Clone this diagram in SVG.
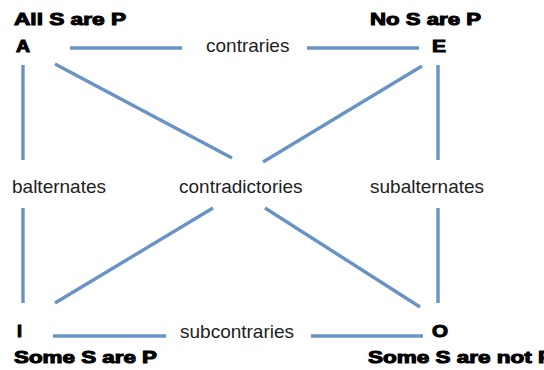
<svg xmlns="http://www.w3.org/2000/svg" width="544" height="370" viewBox="0 0 544 370">
  <defs>
    <filter id="soft" x="-10%" y="-10%" width="120%" height="120%">
      <feGaussianBlur stdDeviation="0.5"/>
    </filter>
    <style>
      .ln { stroke: #6a93c5; stroke-width: 3.4; fill: none; stroke-linecap: butt; }
      .lbl { font-family: "Liberation Sans", Arial, sans-serif; font-size: 19px; fill: #222; }
      .hd { font-family: "Liberation Sans", Arial, sans-serif; font-size: 16.5px; font-weight: bold; fill: #000; stroke: #000; stroke-width: 1; }
      .let { font-family: "Liberation Sans", Arial, sans-serif; font-size: 16.5px; font-weight: bold; fill: #000; stroke: #000; stroke-width: 1; }
    </style>
  </defs>
  <rect width="544" height="370" fill="#ffffff"/>

  <g id="connectors" filter="url(#soft)">
    <line class="ln" x1="70" y1="48" x2="182" y2="48"/>
    <line class="ln" x1="307" y1="48" x2="419" y2="48"/>
    <line class="ln" x1="53" y1="336" x2="166" y2="336"/>
    <line class="ln" x1="311" y1="336" x2="423" y2="336"/>
    <line class="ln" x1="23" y1="65" x2="23" y2="160"/>
    <line class="ln" x1="23" y1="208" x2="23" y2="303"/>
    <line class="ln" x1="438" y1="65" x2="438" y2="160"/>
    <line class="ln" x1="438" y1="208" x2="438" y2="303"/>
    <line class="ln" x1="55" y1="64" x2="232" y2="158"/>
    <line class="ln" x1="422" y1="66" x2="263" y2="162"/>
    <line class="ln" x1="213" y1="208" x2="55" y2="303"/>
    <line class="ln" x1="265" y1="208" x2="420" y2="307"/>
  </g>

  <g id="label-contraries"><text class="lbl" x="206" y="52">contraries</text></g>
  <g id="label-balternates"><text class="lbl" x="12" y="193">balternates</text></g>
  <g id="label-contradictories"><text class="lbl" x="179" y="193">contradictories</text></g>
  <g id="label-subalternates"><text class="lbl" x="370" y="193">subalternates</text></g>
  <g id="label-subcontraries"><text class="lbl" x="180" y="338">subcontraries</text></g>

  <g id="node-A">
    <text class="hd" x="14" y="25" textLength="112" lengthAdjust="spacingAndGlyphs">All S are P</text>
    <text class="let" x="16" y="52" textLength="14" lengthAdjust="spacingAndGlyphs">A</text>
  </g>
  <g id="node-E">
    <text class="hd" x="370" y="25" textLength="111" lengthAdjust="spacingAndGlyphs">No S are P</text>
    <text class="let" x="432" y="52" textLength="14" lengthAdjust="spacingAndGlyphs">E</text>
  </g>
  <g id="node-I">
    <text class="let" x="17" y="337" textLength="5" lengthAdjust="spacingAndGlyphs">I</text>
    <text class="hd" x="14" y="363" textLength="143" lengthAdjust="spacingAndGlyphs">Some S are P</text>
  </g>
  <g id="node-O">
    <text class="let" x="432" y="337" textLength="16" lengthAdjust="spacingAndGlyphs">O</text>
    <text class="hd" x="368" y="363" textLength="185" lengthAdjust="spacingAndGlyphs">Some S are not P</text>
  </g>
</svg>
